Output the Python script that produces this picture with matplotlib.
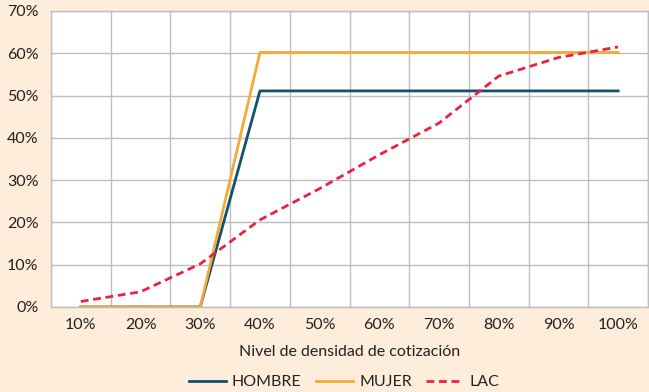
import numpy as np
import matplotlib.pyplot as plt

categories = ['10%', '20%', '30%', '40%', '50%', '60%', '70%', '80%', '90%', '100%']
hombre = [0, 0, 0, 51.1, 51.1, 51.1, 51.1, 51.1, 51.1, 51.1]
mujer = [0, 0, 0, 60.2, 60.2, 60.2, 60.2, 60.2, 60.2, 60.2]
lac = [1.3, 3.6, 10.2, 20.6, 28.0, 36.0, 43.5, 54.6, 59.0, 61.5]
yticks = [0, 10, 20, 30, 40, 50, 60, 70]

plt.rcParams['font.family'] = ['Lato', 'DejaVu Sans']
bg = '#FDEDDA'
txt = '#222222'

fig = plt.figure(figsize=(6.49, 3.92), dpi=100, facecolor=bg)
ax = fig.add_axes([51/649, 1 - 307/392, 597/649, 296/392])
ax.set_facecolor('white')

x = np.arange(len(categories))
ax.plot(x, hombre, color='#12506E', lw=2.0, label='HOMBRE', zorder=3)
ax.plot(x, mujer, color='#F6AA36', lw=2.0, label='MUJER', zorder=3)
ax.plot(x, lac, color='#E8223F', lw=2.0, ls=(0, (2.8, 1.7)), label='LAC', zorder=4)

ax.set_xlim(-0.5, len(categories) - 0.5)
ax.set_ylim(0, 70)
ax.set_xticks(x)
ax.set_xticklabels(categories, fontsize=11.5, color=txt)
ax.set_xticks(np.arange(len(categories) + 1) - 0.5, minor=True)
ax.set_yticks(yticks)
ax.set_yticklabels([f'{v}%' for v in yticks], fontsize=11.5, color=txt)
ax.tick_params(which='both', length=0)
ax.tick_params(axis='x', pad=8)
ax.tick_params(axis='y', pad=9)
ax.grid(axis='y', which='major', color='#BEBEBE', lw=1)
ax.grid(axis='x', which='minor', color='#BEBEBE', lw=1)
ax.grid(axis='x', which='major', visible=False)
for s in ax.spines.values():
    s.set_color('#BEBEBE')
    s.set_linewidth(1)

ax.set_xlabel('Nivel de densidad de cotización', fontsize=11.5, color=txt, labelpad=9)

fig.legend(loc='lower center', bbox_to_anchor=(0.53, -0.03), ncol=3, frameon=False,
           fontsize=11.5, handlelength=2.3, columnspacing=0.9, handletextpad=0.4,
           labelcolor=txt)

fig.savefig('out.png', dpi=100, facecolor=bg)
